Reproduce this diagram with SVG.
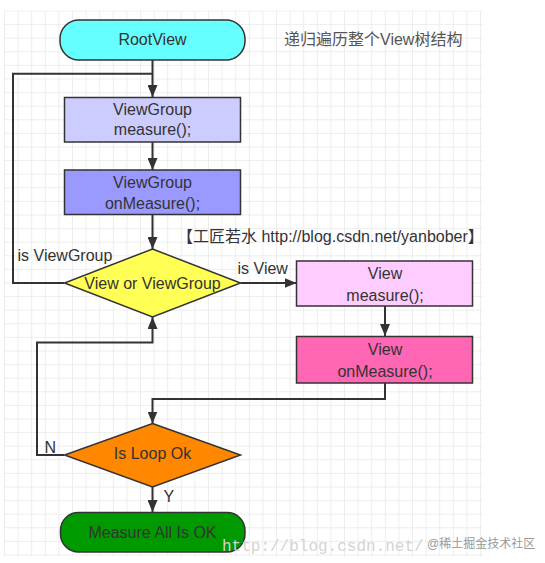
<svg xmlns="http://www.w3.org/2000/svg" width="545" height="563" viewBox="0 0 545 563">
<style>
  .t { font-family: "Liberation Sans", Arial, "Noto Sans CJK SC", sans-serif; font-size: 16px; fill: #333; text-anchor: middle; dominant-baseline: central; }
  .lbl { font-family: "Liberation Sans", Arial, "Noto Sans CJK SC", sans-serif; font-size: 16px; fill: #333; dominant-baseline: central; }
  .shape { stroke: #333; stroke-width: 1.5; }
  .conn { fill: none; stroke: #333; stroke-width: 2; }
</style>
<defs>
  <pattern id="grid" x="4" y="10.5" width="13.6" height="13.6" patternUnits="userSpaceOnUse">
    <path d="M0 0.5 H13.6 M0.5 0 V13.6" fill="none" stroke="#ededed" stroke-width="1"/>
  </pattern>
  <marker id="arr" markerUnits="userSpaceOnUse" markerWidth="12" markerHeight="10" refX="12" refY="5" orient="auto">
    <path d="M0 0 L12 5 L0 10 z" fill="#333"/>
  </marker>
</defs>
<rect width="545" height="563" fill="#fff"/>
<rect x="4" y="10.5" width="479" height="546" fill="url(#grid)"/>

<g id="connectors">
  <path class="conn" d="M152.5 60 V97" marker-end="url(#arr)"/>
  <path class="conn" d="M64 283 H13 V73.7 H152.5"/>
  <path class="conn" d="M152.5 142 V170" marker-end="url(#arr)"/>
  <path class="conn" d="M152.5 214 V249" marker-end="url(#arr)"/>
  <path class="conn" d="M240.5 283 H296.5" marker-end="url(#arr)"/>
  <path class="conn" d="M385 306 V336" marker-end="url(#arr)"/>
  <path class="conn" d="M385 383 V399 H152.5 V423.5" marker-end="url(#arr)"/>
  <path class="conn" d="M64 455 H37 V342.6 H152.5 V317" marker-end="url(#arr)"/>
  <path class="conn" d="M152.5 487 V512" marker-end="url(#arr)"/>
</g>

<g id="rootview">
  <rect class="shape" x="60" y="20" width="185" height="40" rx="19" fill="#66FFFF"/>
  <text class="t" x="152.5" y="39.5">RootView</text>
</g>
<g id="note">
  <text class="lbl" x="284" y="39.5" style="fill:#555">递归遍历整个View树结构</text>
</g>
<g id="vg-measure">
  <rect class="shape" x="64.5" y="97.5" width="176" height="44.5" fill="#CCCCFF"/>
  <text class="t" x="152.5" y="109">ViewGroup</text>
  <text class="t" x="152.5" y="129.5">measure();</text>
</g>
<g id="vg-onmeasure">
  <rect class="shape" x="64.5" y="170" width="176" height="44.5" fill="#9999FF"/>
  <text class="t" x="152.5" y="182.5">ViewGroup</text>
  <text class="t" x="152.5" y="203.5">onMeasure();</text>
</g>
<g id="credit">
  <text class="lbl" x="177" y="236">【工匠若水 http://blog.csdn.net/yanbober】</text>
</g>
<g id="decision-view">
  <polygon class="shape" points="152.5,249 240.5,283 152.5,317 64.5,283" fill="#FFFF55"/>
  <text class="t" x="152.5" y="283.5">View or ViewGroup</text>
  <text class="lbl" x="17.5" y="255">is ViewGroup</text>
  <text class="lbl" x="237.5" y="268">is View</text>
</g>
<g id="view-measure">
  <rect class="shape" x="296.5" y="261" width="176" height="45" fill="#FFCCFF"/>
  <text class="t" x="385" y="273.5">View</text>
  <text class="t" x="385" y="295">measure();</text>
</g>
<g id="view-onmeasure">
  <rect class="shape" x="296.5" y="336.5" width="176" height="46.5" fill="#FF66B3"/>
  <text class="t" x="385" y="349">View</text>
  <text class="t" x="385" y="371">onMeasure();</text>
</g>
<g id="decision-loop">
  <polygon class="shape" points="152.5,423.5 240.5,455 152.5,487 64.5,455" fill="#FF8800"/>
  <text class="t" x="152.5" y="453.5">Is Loop Ok</text>
  <text class="lbl" x="44.5" y="447">N</text>
  <text class="lbl" x="163.5" y="496">Y</text>
</g>
<g id="done">
  <rect class="shape" x="60.5" y="512.5" width="184.5" height="39.5" rx="18" fill="#009900"/>
  <text class="t" x="152.5" y="532">Measure All Is OK</text>
</g>
<g id="watermark">
  <text x="222" y="551" style="font-family:'Liberation Mono','Courier New',monospace;font-size:16px;fill:#d4d4d4">http://blog.csdn.net/</text>
  <text x="427" y="548" style="font-family:'Liberation Sans','Noto Sans CJK SC',sans-serif;font-size:12px;fill:#999">@稀土掘金技术社区</text>
</g>
</svg>
